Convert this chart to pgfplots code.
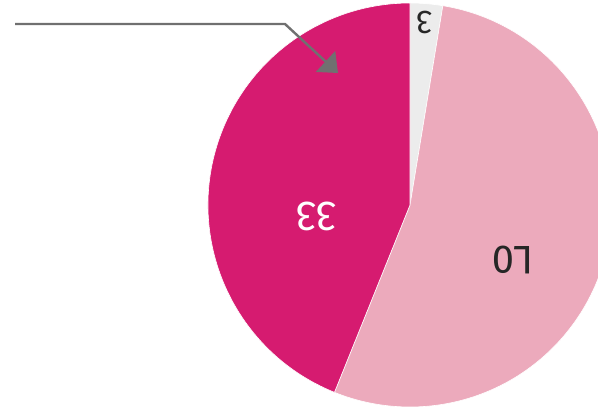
\documentclass[border=0pt]{standalone}
\usepackage{fontspec}
\setmainfont{Fira Sans}
\usepackage{pgfplots}
\pgfplotsset{compat=1.18}
\usetikzlibrary{arrows.meta}
\definecolor{mag}{RGB}{214,27,112}
\definecolor{pnk}{RGB}{236,170,188}
\definecolor{gry}{RGB}{236,236,236}
\definecolor{arr}{RGB}{112,112,112}
\begin{document}
\begin{tikzpicture}
% shares of the circle, percent
\def\vA{2.6}\def\vB{53.5}\def\vC{43.9}
\pgfmathsetmacro{\aA}{90}
\pgfmathsetmacro{\aB}{90-\vA*3.6}
\pgfmathsetmacro{\aC}{\aB-\vB*3.6}
\pgfmathsetmacro{\aD}{\aC-\vC*3.6}
\begin{axis}[x=1bp,y=1bp,xmin=0,xmax=598,ymin=0,ymax=407,hide axis,scale only axis,clip=true]
\path (axis cs:0,0) rectangle (axis cs:598,407);
\fill[gry,draw=white,line width=0.6bp] (axis cs:410,202) -- ++(\aA:202bp) arc[start angle=\aA,end angle=\aB,radius=202bp] -- cycle;
\fill[pnk,draw=white,line width=0.6bp] (axis cs:410,202) -- ++(\aB:202bp) arc[start angle=\aB,end angle=\aC,radius=202bp] -- cycle;
\fill[mag,draw=white,line width=0.6bp] (axis cs:410,202) -- ++(\aC:202bp) arc[start angle=\aC,end angle=\aD,radius=202bp] -- cycle;
\draw[arr,line width=2.4bp,-{Triangle[length=17bp,width=28bp]}] (axis cs:15,383) -- (axis cs:285,383) -- (axis cs:338,334);
\node[rotate=180,white,font=\fontsize{42}{42}\selectfont] at (axis cs:316,191) {33};
\node[rotate=180,black!85,font=\fontsize{40}{40}\selectfont] at (axis cs:513,147) {L0};
\node[rotate=180,black!85,font=\fontsize{33}{33}\selectfont] at (axis cs:424,385) {3};
\end{axis}
\end{tikzpicture}
\end{document}
